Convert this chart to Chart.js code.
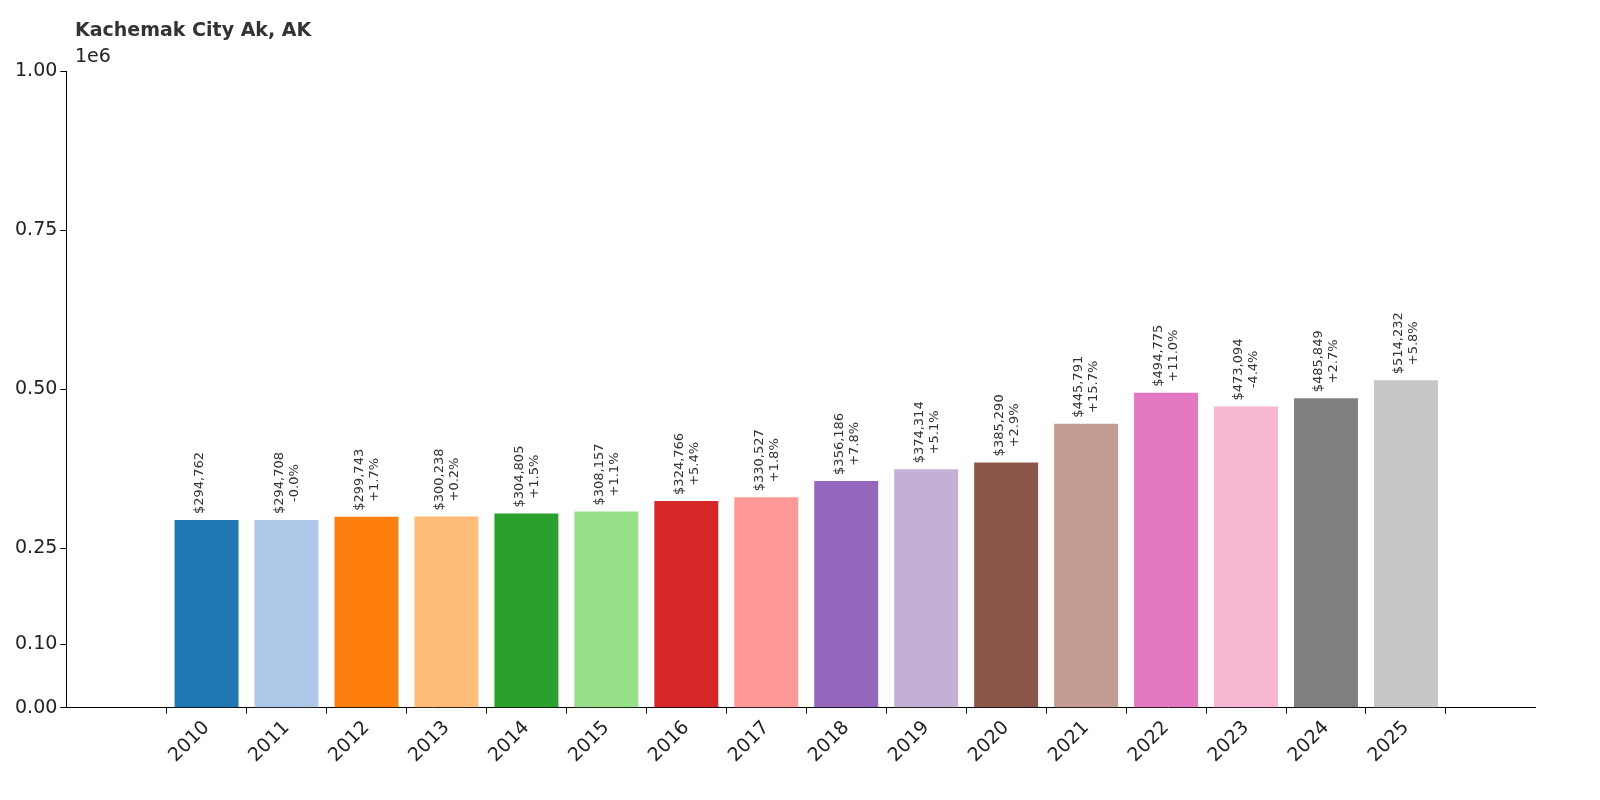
<!DOCTYPE html>
<html><head><meta charset="utf-8">
<script src="https://cdn.jsdelivr.net/npm/chart.js@4/dist/chart.umd.min.js"></script>
<style>html,body{margin:0;background:#fff}</style>
</head><body><canvas id="c" width="1600" height="800"></canvas>
<script>
const years=["2010","2011","2012","2013","2014","2015","2016","2017","2018","2019","2020","2021","2022","2023","2024","2025"];
const values=[294762,294708,299743,300238,304805,308157,324766,330527,356186,374314,385290,445791,494775,473094,485849,514232];
const changes=["-0.0%","+1.7%","+0.2%","+1.5%","+1.1%","+5.4%","+1.8%","+7.8%","+5.1%","+2.9%","+15.7%","+11.0%","-4.4%","+2.7%","+5.8%"];
const yTicks=[0,100000,250000,500000,750000,1000000];
const colors=["#1f77b4","#aec7e8","#ff7f0e","#ffbb78","#2ca02c","#98df8a","#d62728","#ff9896","#9467bd","#c5b0d5","#8c564b","#c49c94","#e377c2","#f7b6d2","#7f7f7f","#c7c7c7"];
const F="DejaVu Sans";
const ann={id:'ann',afterDatasetsDraw(ch){
  const c=ch.ctx,xs=ch.scales.x,ys=ch.scales.y;
  c.save();c.fillStyle="#333";c.font="13px "+F;c.textBaseline="middle";c.textAlign="left";
  values.forEach((v,i)=>{
    const x=xs.getPixelForValue(i),y=ys.getPixelForValue(v)-6;
    const l1="$"+v.toLocaleString("en-US");
    c.save();c.translate(x,y);c.rotate(-Math.PI/2);
    c.fillText(l1,0,-7);
    if(i>0){const w1=c.measureText(l1).width,w2=c.measureText(changes[i-1]).width;c.fillText(changes[i-1],(w1-w2)/2,8);}
    c.restore();
  });
  c.fillStyle="#333";c.font="bold 19px "+F;c.fillText("Kachemak City Ak, AK",75,31);
  c.font="19px "+F;c.fillStyle="#222";c.fillText("1e6",75,57);
  c.restore();
}};
new Chart(document.getElementById('c'),{
  type:'bar',
  data:{datasets:[{data:values.map((v,i)=>({x:i,y:v})),backgroundColor:colors,barPercentage:0.8,categoryPercentage:1}]},
  options:{responsive:false,animation:false,devicePixelRatio:1,
    layout:{padding:{top:71,right:65,left:12,bottom:30}},
    plugins:{legend:{display:false},tooltip:{enabled:false}},
    scales:{
      x:{type:'linear',min:-1.18,max:16.04,
        afterBuildTicks(s){s.ticks=years.map((_,i)=>({value:i}));},
        ticks:{callback:(v)=>years[v],maxRotation:45,minRotation:45,color:"#222",font:{family:F,size:19},autoSkip:false},
        grid:{drawOnChartArea:false,tickLength:6,color:"#000"},border:{color:"#000"}},
      y:{min:0,max:1000000,
        afterBuildTicks(s){s.ticks=yTicks.map(v=>({value:v}));},
        ticks:{callback:(v)=>(v/1e6).toFixed(2),color:"#222",font:{family:F,size:19}},
        grid:{drawOnChartArea:false,tickLength:6,color:"#000"},border:{color:"#000"}}
    }},
  plugins:[ann]
});
</script></body></html>
